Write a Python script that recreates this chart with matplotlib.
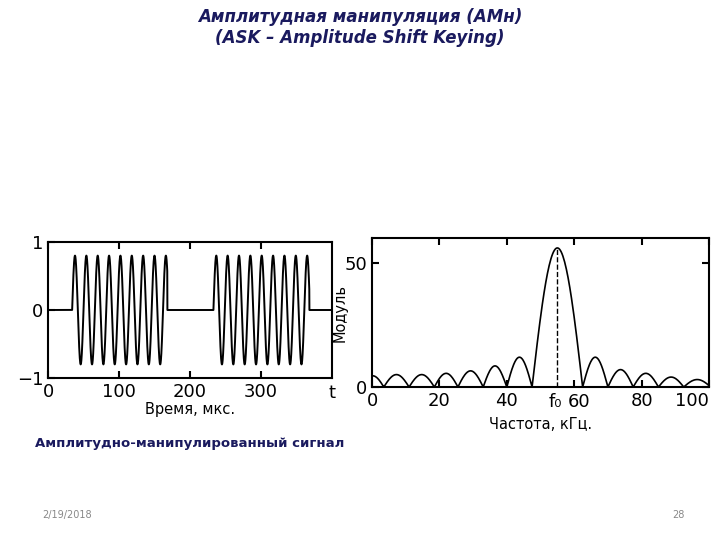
import numpy as np
import matplotlib
matplotlib.use("Agg")
import matplotlib.pyplot as plt

# --- data ---
burst_starts = [34, 233]      # µs
burst_ends = [168, 368]       # µs
carrier_period = 16.0         # µs
amplitude = 0.8
t_ticks = [0, 100, 200, 300]

null_freqs = [-3, 3.5, 11, 18.5, 25.5, 33, 40, 47.5, 62.5, 70, 77.5, 85, 92.5, 100.5]
lobe_heights = [4.5, 5, 5, 5.5, 6.5, 8.5, 12, 56, 12, 7, 5.5, 4, 3]
f0 = 55
f_ticks = [0, 20, 40, 60, 80, 100]

W, H = 720, 540
fig = plt.figure(figsize=(W/100, H/100), dpi=100)
fig.patch.set_facecolor("white")
navy = "#1a1a5e"

def ax_at(x0, y0, x1, y1):
    return fig.add_axes([x0/W, 1-y1/H, (x1-x0)/W, (y1-y0)/H])

# left: time signal
ax = ax_at(48, 242, 332, 378)
t = np.linspace(0, 400, 8000)
s = np.zeros_like(t)
for a, b in zip(burst_starts, burst_ends):
    m = (t >= a) & (t <= b)
    s[m] = amplitude*np.sin(2*np.pi*(t[m]-a)/carrier_period)
ax.plot(t, s, color="black", lw=1.4)
ax.set_xlim(0, 400); ax.set_ylim(-1, 1)
ax.set_xticks(t_ticks); ax.set_yticks([-1, 0, 1]); ax.set_yticklabels(["−1", "0", "1"])
ax.tick_params(direction="in", length=5, width=1.5, labelsize=13, top=True)
for sp in ax.spines.values(): sp.set_linewidth(1.5)
ax.text(400, -1.09, "t", ha="center", va="top", fontsize=13)
ax.set_xlabel("Время, мкс.", fontsize=10.5, labelpad=1)

# right: spectrum
ax2 = ax_at(372, 238, 709, 387)
fs, ms = [], []
for i, h in enumerate(lobe_heights):
    a, b = null_freqs[i], null_freqs[i+1]
    f = np.linspace(a, b, 60)
    fs.append(f); ms.append(h*np.sin(np.pi*(f-a)/(b-a)))
ax2.plot(np.concatenate(fs), np.concatenate(ms), color="black", lw=1.2)
ax2.plot([f0, f0], [0, lobe_heights[7]], "k--", lw=1)
ax2.set_xlim(0, 100); ax2.set_ylim(0, 60)
ax2.set_xticks(f_ticks); ax2.set_xticklabels(["0", "20", "40", "", "80", "100"])
ax2.set_yticks([0, 50])
ax2.tick_params(direction="in", length=5, width=1.5, labelsize=13, top=True, right=True)
for sp in ax2.spines.values(): sp.set_linewidth(1.5)
ax2.text(f0 - 0.5, -2.6, "f₀", ha="center", va="top", fontsize=13)
ax2.text(61.5, -2.6, "60", ha="center", va="top", fontsize=13)
ax2.set_xlabel("Частота, кГц.", fontsize=10.5, labelpad=5)
ax2.set_ylabel("Модуль", fontsize=10.5, labelpad=-2)
lbls = ax2.get_xticklabels()
lbls[-1].set_horizontalalignment("right")

fig.text(0.5, 1-17/H, "Амплитудная манипуляция (АМн)", ha="center", va="center",
         fontsize=12, style="italic", weight="bold", color=navy)
fig.text(0.5, 1-38/H, "(ASK – Amplitude Shift Keying)", ha="center", va="center",
         fontsize=12, style="italic", weight="bold", color=navy)
fig.text(35/W, 1-443/H, "Амплитудно-манипулированный сигнал", ha="left", va="center",
         fontsize=9.5, weight="bold", color=navy)
fig.text(42/W, 1-515/H, "2/19/2018", ha="left", va="center", fontsize=7, color="#888888")
fig.text(672/W, 1-515/H, "28", ha="left", va="center", fontsize=7, color="#888888")

fig.savefig("out.png", dpi=100)
